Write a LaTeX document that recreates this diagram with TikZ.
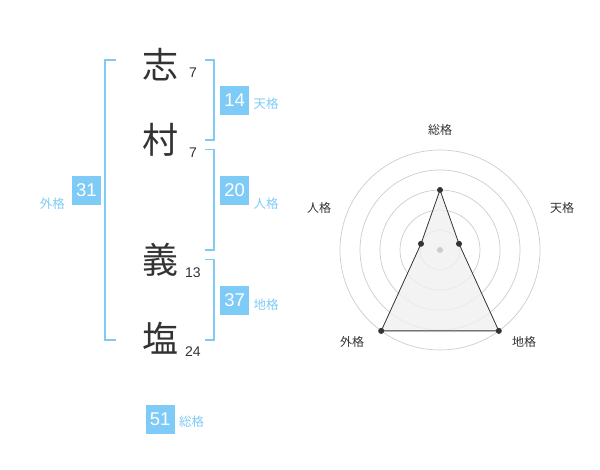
\documentclass[tikz,border=0pt]{standalone}
\usepackage{fontspec}
\setmainfont{Liberation Sans}
\newfontfamily\jp{Noto Sans CJK JP}
\definecolor{kblue}{HTML}{7FCBF7}
\definecolor{kdark}{HTML}{333333}
\definecolor{kgrid}{HTML}{CCCCCC}
\definecolor{kfill}{HTML}{F0F0F0}
\tikzset{
  bigchar/.style={inner sep=0pt, text=kdark, font=\jp\fontsize{36}{36}\selectfont},
  strokes/.style={inner sep=0pt, text=kdark, font=\fontsize{14}{14}\selectfont},
  numbox/.style={fill=kblue, text=white, minimum size=29pt, inner sep=0pt, font=\fontsize{18.5}{18.5}\selectfont},
  boxlabel/.style={inner sep=0pt, text=kblue, font=\jp\fontsize{12.5}{12.5}\selectfont},
  bracket/.style={draw=kblue, line width=1.8pt},
  ring/.style={draw=kgrid, line width=0.7pt},
  axislabel/.style={inner sep=0pt, text=kdark, font=\jp\fontsize{12}{12}\selectfont},
  vertex/.style={circle, fill=kdark, inner sep=0pt, minimum size=6pt},
}
\begin{document}
\begin{tikzpicture}[x=1pt,y=-1pt]
\useasboundingbox (0,0) rectangle (600,470);
% names
\node[bigchar] (c1) at (160,65) {志};
\node[bigchar] (c2) at (160,140) {村};
\node[bigchar] (c3) at (160,260) {義};
\node[bigchar] (c4) at (160,338) {塩};
\node[strokes] (s1) at (193,73) {7};
\node[strokes] (s2) at (193,153) {7};
\node[strokes] (s3) at (193,273) {13};
\node[strokes] (s4) at (193,352) {24};
% brackets
\draw[bracket] (116,60) -- (105,60) -- (105,340) -- (116,340);
\draw[bracket] (205,60) -- (214,60) -- (214,140) -- (205,140);
\draw[bracket] (205,149.5) -- (214,149.5) -- (214,250) -- (205,250);
\draw[bracket] (205,259.5) -- (214,259.5) -- (214,340) -- (205,340);
% boxes
\node[numbox] (ten) at (234.7,100.5) {14};
\node[boxlabel, anchor=west] (tenl) at (253.5,104) {天格};
\node[numbox] (jin) at (234.7,190.5) {20};
\node[boxlabel, anchor=west] (jinl) at (253.5,204) {人格};
\node[numbox] (chi) at (234.7,300.5) {37};
\node[boxlabel, anchor=west] (chil) at (253.5,305) {地格};
\node[numbox] (gai) at (86.4,190.5) {31};
\node[boxlabel, anchor=east] (gail) at (65,204) {外格};
\node[numbox] (sou) at (160.2,419.2) {51};
\node[boxlabel, anchor=west] (soul) at (179,422) {総格};
% radar
\coordinate (o) at (440,250);
\foreach \r in {20,40,60,80,100} \draw[ring] (o) circle (\r);
\node[axislabel] (ls) at (440,130) {総格};
\node[axislabel] (lt) at (562,208) {天格};
\node[axislabel] (lj) at (319,208) {人格};
\node[axislabel] (lg) at (352,342) {外格};
\node[axislabel] (lc) at (524,342) {地格};
\coordinate (ps) at (440,190);
\coordinate (pt) at (459.0,243.8);
\coordinate (pc) at (498.8,330.9);
\coordinate (pg) at (381.2,330.9);
\coordinate (pj) at (421.0,243.8);
\filldraw[fill=kfill, fill opacity=0.8, draw=kdark, line width=0.8pt] (ps) -- (pt) -- (pc) -- (pg) -- (pj) -- cycle;
\fill[kgrid] (o) circle (3);
\foreach \p in {ps,pt,pc,pg,pj} \node[vertex] at (\p) {};
\end{tikzpicture}
\end{document}
